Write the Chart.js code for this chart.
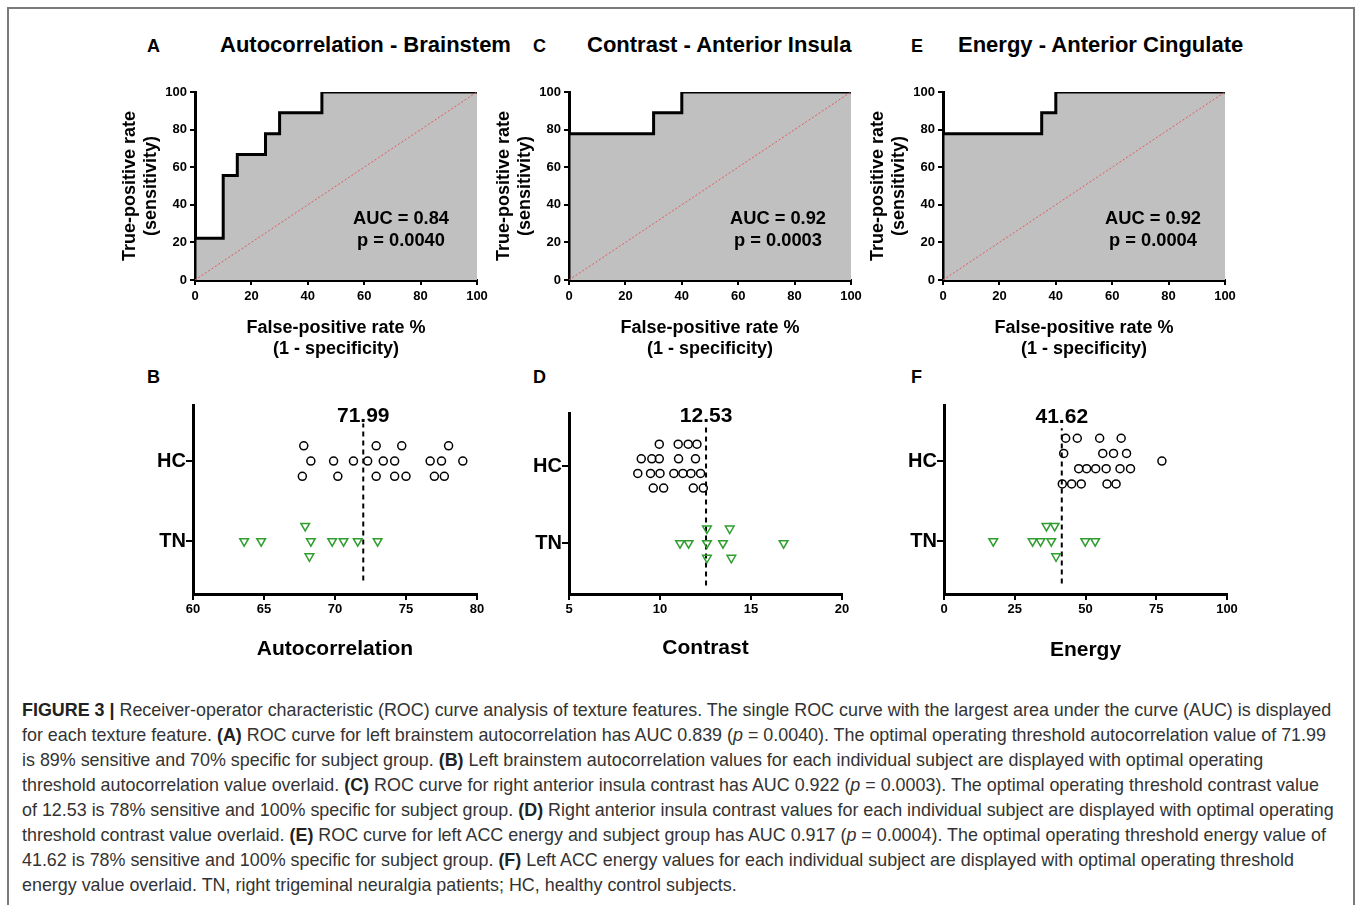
<!DOCTYPE html>
<html>
<head>
<meta charset="utf-8">
<script src="https://cdn.jsdelivr.net/npm/chart.js@4.4.0/dist/chart.umd.min.js"></script>
<style>
body { margin: 0; background: #fff; width: 1357px; height: 905px; overflow: hidden; position: relative;
       font-family: "Liberation Sans", Arial, Helvetica, sans-serif; color: #000; }
.frame { position: absolute; left: 7px; top: 7px; width: 1348px; height: 1000px; border: 2px solid #7a7a7a; box-sizing: border-box; }
.wrap { position: absolute; }
.letter { position: absolute; font-weight: bold; font-size: 18px; line-height: 18px; }
.ttl { position: absolute; font-weight: bold; font-size: 22px; line-height: 22px; white-space: nowrap; }
.auc { position: absolute; width: 180px; margin-left: -90px; text-align: center; font-weight: bold; font-size: 18.3px; line-height: 22px; }
.cap { position: absolute; left: 22px; top: 698px; font-size: 17.9px; line-height: 25px; color: #333; white-space: nowrap; }
.cap b { color: #222; }
</style>
</head>
<body>
<div class="frame"></div>

<div class="letter" style="left:147px;top:37px">A</div>
<div class="ttl" style="left:220px;top:34px">Autocorrelation - Brainstem</div>
<div class="letter" style="left:533px;top:37px">C</div>
<div class="ttl" style="left:587px;top:34px">Contrast - Anterior Insula</div>
<div class="letter" style="left:911px;top:37px">E</div>
<div class="ttl" style="left:958px;top:34px">Energy - Anterior Cingulate</div>

<div class="letter" style="left:147px;top:368px">B</div>
<div class="letter" style="left:533px;top:368px">D</div>
<div class="letter" style="left:911px;top:368px">F</div>

<div class="wrap" style="left:110px;top:75px"><canvas id="rocA" width="385" height="290"></canvas></div>
<div class="wrap" style="left:484px;top:75px"><canvas id="rocC" width="385" height="290"></canvas></div>
<div class="wrap" style="left:858px;top:75px"><canvas id="rocE" width="385" height="290"></canvas></div>

<div class="auc" style="left:401px;top:207px">AUC = 0.84<br>p = 0.0040</div>
<div class="auc" style="left:778px;top:207px">AUC = 0.92<br>p = 0.0003</div>
<div class="auc" style="left:1153px;top:207px">AUC = 0.92<br>p = 0.0004</div>

<div class="wrap" style="left:108px;top:385px"><canvas id="dotB" width="387" height="285"></canvas></div>
<div class="wrap" style="left:484px;top:393px"><canvas id="dotD" width="376" height="276"></canvas></div>
<div class="wrap" style="left:859px;top:385px"><canvas id="dotF" width="386" height="286"></canvas></div>

<div class="cap">
<div><b>FIGURE 3 |</b> Receiver-operator characteristic (ROC) curve analysis of texture features. The single ROC curve with the largest area under the curve (AUC) is displayed</div>
<div>for each texture feature. <b>(A)</b> ROC curve for left brainstem autocorrelation has AUC 0.839 (<i>p</i> = 0.0040). The optimal operating threshold autocorrelation value of 71.99</div>
<div>is 89% sensitive and 70% specific for subject group. <b>(B)</b> Left brainstem autocorrelation values for each individual subject are displayed with optimal operating</div>
<div>threshold autocorrelation value overlaid. <b>(C)</b> ROC curve for right anterior insula contrast has AUC 0.922 (<i>p</i> = 0.0003). The optimal operating threshold contrast value</div>
<div>of 12.53 is 78% sensitive and 100% specific for subject group. <b>(D)</b> Right anterior insula contrast values for each individual subject are displayed with optimal operating</div>
<div>threshold contrast value overlaid. <b>(E)</b> ROC curve for left ACC energy and subject group has AUC 0.917 (<i>p</i> = 0.0004). The optimal operating threshold energy value of</div>
<div>41.62 is 78% sensitive and 100% specific for subject group. <b>(F)</b> Left ACC energy values for each individual subject are displayed with optimal operating threshold</div>
<div>energy value overlaid. TN, right trigeminal neuralgia patients; HC, healthy control subjects.</div>
</div>

<script>
// ROC curves (false-positive % / true-positive %)
const rocFprA = [0, 0, 10, 15, 25, 30, 45, 100];
const rocTprA = [0, 22.2, 55.6, 66.7, 77.8, 88.9, 100, 100];
const rocFprC = [0, 0, 30, 40, 100];
const rocTprC = [0, 77.8, 88.9, 100, 100];
const rocFprE = [0, 0, 35, 40, 100];
const rocTprE = [0, 77.8, 88.9, 100, 100];
const rocTicks = [0, 20, 40, 60, 80, 100];
const chanceLine = [0, 100];

// group rows: TN = 1, HC = 2
const groupLabels = ['TN', 'HC'];
const groupValues = [1, 2];

// B - autocorrelation (lane = stacked row inside the group)
const hcAuto = [67.7, 67.8, 68.3, 69.9, 70.2, 71.3, 72.3, 72.9, 72.9, 73.4, 74.2, 74.2, 74.7, 75.0, 76.7, 77.0, 77.5, 77.7, 78.0, 79.0];
const hcAutoLane = [-1, 1, 0, 0, -1, 0, 0, 1, -1, 0, 0, -1, 1, -1, 0, -1, 0, -1, 1, 0];
const tnAuto = [63.6, 64.8, 67.9, 68.2, 68.3, 69.8, 70.6, 71.6, 73.0];
const tnAutoLane = [0, 0, 1, -1, 0, 0, 0, 0, 0];
const thrAuto = 71.99;
const autoTicks = [60, 65, 70, 75, 80];

// D - contrast
const hcContrast = [8.78, 8.97, 9.48, 9.55, 9.63, 9.96, 9.96, 10.0, 10.2, 10.76, 11.0, 11.02, 11.26, 11.55, 11.7, 11.83, 11.95, 12.03, 12.23, 12.38];
const hcContrastLane = [-0.5, 0.5, -0.5, 0.5, -1.5, 1.5, 0.5, -0.5, -1.5, -0.5, 1.5, 0.5, -0.5, 1.5, -0.5, -1.5, 0.5, 1.5, -0.5, -1.5];
const tnContrast = [11.1, 11.57, 12.58, 12.58, 12.58, 13.46, 13.83, 13.92, 16.79];
const tnContrastLane = [0, 0, 1, 0, -1, 0, 1, -1, 0];
const thrContrast = 12.53;
const contrastTicks = [5, 10, 15, 20];

// F - energy
const hcEnergy = [41.8, 42.3, 43.0, 45.1, 47.1, 47.6, 48.5, 50.4, 53.6, 55.0, 56.1, 57.3, 57.6, 59.9, 60.8, 62.2, 62.6, 64.5, 65.9, 77.0];
const hcEnergyLane = [-1.5, 0.5, 1.5, -1.5, 1.5, -0.5, -1.5, -0.5, -0.5, 1.5, 0.5, -0.5, -1.5, 0.5, -1.5, -0.5, 1.5, 0.5, -0.5, 0];
const tnEnergy = [17.4, 31.3, 34.1, 36.2, 37.9, 39.1, 39.6, 49.9, 53.4];
const tnEnergyLane = [0, 0, 0, 1, 0, 1, -1, 0, 0];
const thrEnergy = 41.62;
const energyTicks = [0, 25, 50, 75, 100];

Chart.defaults.font.family = '"Liberation Sans", Arial, Helvetica, sans-serif';
Chart.defaults.color = '#000';

const laneStep = 0.19;
const green = '#2f9e2f';

function tickList(list) {
   return function (scale) { scale.ticks = list.map(v => ({ value: v })); };
}

function rocChart(id, fpr, tpr) {
   const curve = fpr.map((x, i) => ({ x: x, y: tpr[i] }));
   return new Chart(document.getElementById(id), {
      type: 'line',
      data: {
         datasets: [{
            data: chanceLine.map(v => ({ x: v, y: v })),
            borderColor: '#e5585e',
            borderWidth: 1,
            borderDash: [2, 2],
            pointRadius: 0,
            fill: false
         }, {
            data: curve,
            stepped: 'before',
            borderColor: '#000',
            borderWidth: 3,
            pointRadius: 0,
            fill: 'origin',
            backgroundColor: '#c0c0c0'
         }]
      },
      options: {
         responsive: false,
         animation: false,
         devicePixelRatio: 1,
         layout: { padding: { top: 17, right: 18, left: 0, bottom: 0 } },
         plugins: { legend: { display: false }, tooltip: { enabled: false } },
         scales: {
            x: {
               type: 'linear', min: 0, max: 100,
               afterBuildTicks: tickList(rocTicks),
               ticks: { color: '#000', font: { size: 13, weight: 'bold' }, padding: 4, maxRotation: 0 },
               grid: { drawOnChartArea: false, tickLength: 5, color: '#000', lineWidth: 2 },
               border: { color: '#000', width: 3 },
               title: {
                  display: true, color: '#000',
                  text: ['False-positive rate %', '(1 - specificity)'],
                  font: { size: 18, weight: 'bold', lineHeight: 1.2 },
                  padding: { top: 0, bottom: 5 }
               },
               afterFit: s => { s.height = 85; s.paddingLeft = 0; s.paddingRight = 0; }
            },
            y: {
               min: 0, max: 100,
               afterBuildTicks: tickList(rocTicks),
               ticks: { color: '#000', font: { size: 13, weight: 'bold' }, padding: 3 },
               grid: { drawOnChartArea: false, tickLength: 5, color: '#000', lineWidth: 2 },
               border: { color: '#000', width: 3 },
               title: {
                  display: true, color: '#000',
                  text: ['True-positive rate', '(sensitivity)'],
                  font: { size: 18, weight: 'bold', lineHeight: 1.2 },
                  padding: { top: 9, bottom: 0 }
               },
               afterFit: s => { s.width = 85; s.paddingTop = 0; s.paddingBottom = 0; }
            }
         }
      }
   });
}

// draws the cut-off value above the dashed line
const thresholdLabel = {
   id: 'thresholdLabel',
   afterDatasetsDraw(chart, args, opts) {
      const ctx = chart.ctx;
      const x = chart.scales.x.getPixelForValue(opts.value);
      const y = chart.scales.y.getPixelForValue(opts.top);
      ctx.save();
      ctx.font = 'bold 21px "Liberation Sans", Arial, sans-serif';
      ctx.fillStyle = '#000';
      ctx.textAlign = 'center';
      ctx.textBaseline = 'alphabetic';
      ctx.fillText(opts.value.toFixed(2), x, y);
      ctx.restore();
   }
};

function dotChart(id, o) {
   const hc = o.hc.map((v, i) => ({ x: v, y: groupValues[1] + o.hcLane[i] * laneStep }));
   const tn = o.tn.map((v, i) => ({ x: v, y: groupValues[0] + o.tnLane[i] * laneStep }));
   return new Chart(document.getElementById(id), {
      type: 'scatter',
      data: {
         datasets: [{
            data: hc,
            pointStyle: 'circle',
            pointRadius: 4,
            borderWidth: 1.5,
            borderColor: '#000',
            backgroundColor: 'rgba(0,0,0,0)'
         }, {
            data: tn,
            pointStyle: 'triangle',
            rotation: 180,
            pointRadius: 5,
            borderWidth: 1.5,
            borderColor: green,
            backgroundColor: 'rgba(0,0,0,0)'
         }, {
            data: [{ x: o.thr, y: o.lineLow }, { x: o.thr, y: o.lineHigh }],
            showLine: true,
            borderColor: '#000',
            borderWidth: 2,
            borderDash: [5, 4],
            pointRadius: 0
         }]
      },
      plugins: [thresholdLabel],
      options: {
         responsive: false,
         animation: false,
         devicePixelRatio: 1,
         layout: { padding: { top: o.padTop, right: 18, left: 0, bottom: 0 } },
         plugins: {
            legend: { display: false }, tooltip: { enabled: false },
            thresholdLabel: { value: o.thr, top: o.labelAt }
         },
         scales: {
            x: {
               type: 'linear', min: o.ticks[0], max: o.ticks[o.ticks.length - 1],
               afterBuildTicks: tickList(o.ticks),
               ticks: { color: '#000', font: { size: 13, weight: 'bold' }, padding: 2, maxRotation: 0 },
               grid: { drawOnChartArea: false, tickLength: 6, color: '#000', lineWidth: 2 },
               border: { color: '#000', width: 3 },
               title: {
                  display: true, color: '#000', text: o.title,
                  font: { size: 21, weight: 'bold', lineHeight: 1.2 },
                  padding: { top: 0, bottom: 8 }
               },
               afterFit: s => { s.height = o.xHeight; s.paddingLeft = 0; s.paddingRight = 0; }
            },
            y: {
               min: o.yMin, max: o.yMax,
               afterBuildTicks: tickList(groupValues),
               ticks: {
                  color: '#000', font: { size: 20, weight: 'bold' }, padding: 0,
                  callback: v => groupLabels[groupValues.indexOf(v)]
               },
               grid: { drawOnChartArea: false, tickLength: 7, color: '#000', lineWidth: 2 },
               border: { color: '#000', width: 3 },
               afterFit: s => { s.width = 85; s.paddingTop = 0; s.paddingBottom = 0; }
            }
         }
      }
   });
}

rocChart('rocA', rocFprA, rocTprA);
rocChart('rocC', rocFprC, rocTprC);
rocChart('rocE', rocFprE, rocTprE);

dotChart('dotB', {
   hc: hcAuto, hcLane: hcAutoLane, tn: tnAuto, tnLane: tnAutoLane, thr: thrAuto,
   ticks: autoTicks, title: 'Autocorrelation',
   yMin: 0.34, yMax: 2.7, lineLow: 0.51, lineHigh: 2.47, labelAt: 2.49, padTop: 20, xHeight: 76
});
dotChart('dotD', {
   hc: hcContrast, hcLane: hcContrastLane, tn: tnContrast, tnLane: tnContrastLane, thr: thrContrast,
   ticks: contrastTicks, title: 'Contrast',
   yMin: 0.34, yMax: 2.69, lineLow: 0.45, lineHigh: 2.55, labelAt: 2.57, padTop: 20, xHeight: 75
});
dotChart('dotF', {
   hc: hcEnergy, hcLane: hcEnergyLane, tn: tnEnergy, tnLane: tnEnergyLane, thr: thrEnergy,
   ticks: energyTicks, title: 'Energy',
   yMin: 0.34, yMax: 2.7, lineLow: 0.47, lineHigh: 2.41, labelAt: 2.48, padTop: 20, xHeight: 77
});
</script>
</body>
</html>
